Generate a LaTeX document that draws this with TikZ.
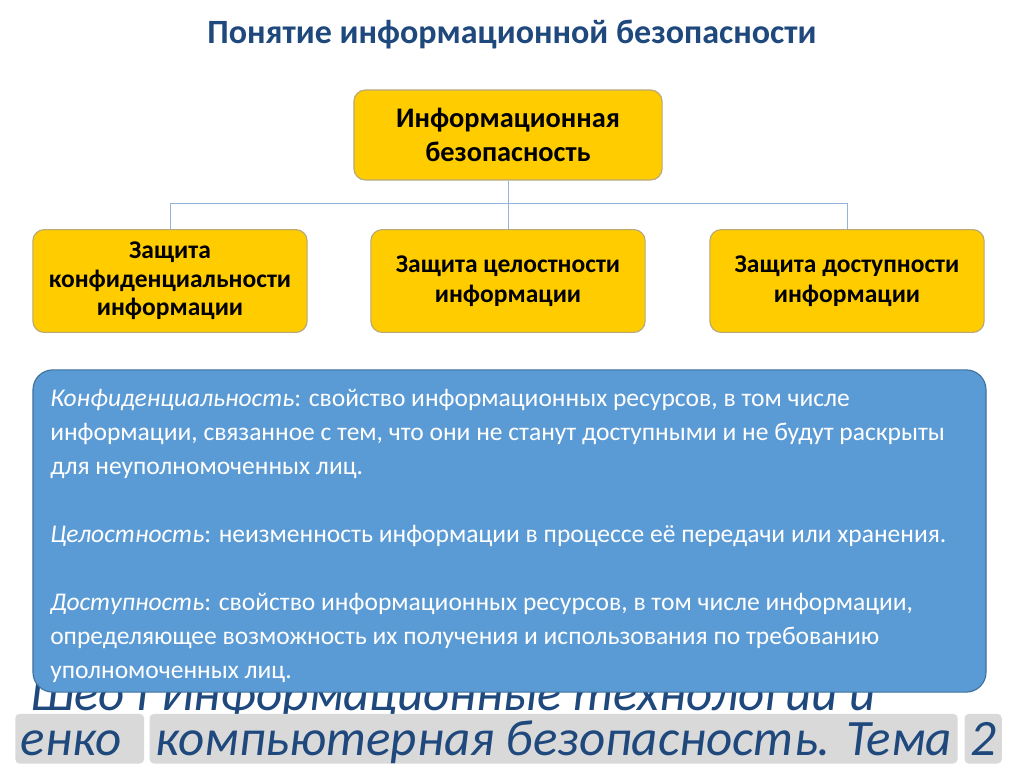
\documentclass[tikz,border=0pt]{standalone}
\usepackage{fontspec}
\setmainfont{Carlito}
\usetikzlibrary{positioning}

\definecolor{titleblue}{HTML}{1F497D}
\definecolor{gold}{HTML}{FFCC00}
\definecolor{goldborder}{HTML}{B8A878}
\definecolor{linkblue}{HTML}{95B3D7}
\definecolor{infoblue}{HTML}{5B9BD5}
\definecolor{infoborder}{HTML}{41719C}
\definecolor{hlgray}{HTML}{D9D9D9}

\begin{document}
\begin{tikzpicture}[
  x=0.0248cm, y=-0.0248cm,
  node distance=0.6cm,
  block/.style={rectangle, draw=goldborder, fill=gold, rounded corners=8pt, line width=0.8pt,
    minimum width=6.8cm, minimum height=2.55cm, align=center,
    font=\fontsize{18}{21}\selectfont\bfseries},
  link/.style={draw=linkblue, line width=0.7pt},
  infobox/.style={rectangle, draw=infoborder, fill=infoblue, rounded corners=14pt, line width=0.8pt,
    minimum width=23.63cm, minimum height=7.99cm},
  hl/.style={fill=hlgray, rounded corners=3pt, inner xsep=4pt, inner ysep=1pt,
    text height=28pt, text depth=5pt, text=titleblue, font=\fontsize{36}{40}\selectfont\itshape}
  ]
  \useasboundingbox[fill=white] (0,0) rectangle (1024,767);

  % ========== заголовок ==========
  \node[font=\fontsize{24}{28}\selectfont\bfseries, text=titleblue] (title) at (512,35) {Понятие информационной безопасности};

  % ========== схема ==========
  \node[block, minimum width=7.64cm, minimum height=2.23cm, font=\fontsize{20}{24}\selectfont\bfseries] (IS) at (508,135) {Информационная\\безопасность};
  \node[block] (C) at (170,281) {\raisebox{-2pt}{\shortstack{Защита\\[2pt]конфиденциальности\\[2pt]информации}}};
  \node[block] (I) at (508,281) {\raisebox{-6pt}{\shortstack{Защита целостности\\[3pt]информации}}};
  \node[block] (A) at (847,281) {\raisebox{-6pt}{\shortstack{Защита доступности\\[3pt]информации}}};
  \coordinate (bus) at (508,203);
  \draw[link] (IS.south) -- (bus);
  \draw[link] (bus -| C.north) -- (bus -| A.north);
  \draw[link] (bus -| C.north) -- (C.north);
  \draw[link] (bus) -- (I.north);
  \draw[link] (bus -| A.north) -- (A.north);

  % ========== нижний колонтитул ==========
  \node[anchor=base west, text=titleblue, font=\fontsize{36}{40}\selectfont\itshape, inner sep=0pt] (foot1) at (30,710) {Шео I Информационные технологии и};
  \node[hl, anchor=base west] (F1) at (15,755) {енко\rule{12pt}{0pt}};
  \node[hl, right=3.5pt of F1] (F2) {компьютерная безопасность. Тема};
  \node[hl, right=4.5pt of F2] (F3) {2};

  % ========== определения ==========
  \node[infobox] (defs) at (509.5,531) {};
  \node[anchor=north west, align=left, text=white, inner sep=0pt,
    font=\fontsize{18}{24}\selectfont] (deftext) at (50,389) {%
    \textit{Конфиденциальность}: свойство информационных ресурсов, в том числе\\
    информации, связанное с тем, что они не станут доступными и не будут раскрыты\\
    для неуполномоченных лиц.\\[24pt]
    \textit{Целостность}: неизменность информации в процессе её передачи или хранения.\\[24pt]
    \textit{Доступность}: свойство информационных ресурсов, в том числе информации,\\
    определяющее возможность их получения и использования по требованию\\
    уполномоченных лиц.};
\end{tikzpicture}
\end{document}
